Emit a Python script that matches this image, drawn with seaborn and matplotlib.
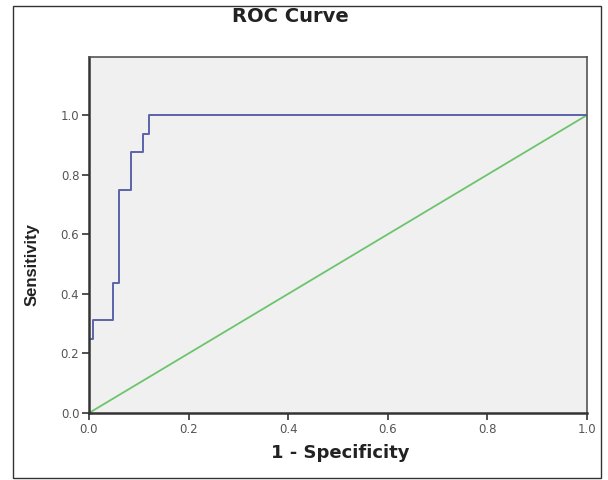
import matplotlib
matplotlib.use("Agg")
import matplotlib.pyplot as plt
import seaborn as sns
import pandas as pd
from matplotlib.patches import Rectangle

fpr = [0.0, 0.0, 0.008, 0.008, 0.048, 0.048, 0.060, 0.060, 0.084, 0.084, 0.108, 0.108, 0.120, 0.120, 1.0]
tpr = [0.0, 0.25, 0.25, 0.3125, 0.3125, 0.4375, 0.4375, 0.75, 0.75, 0.875, 0.875, 0.9375, 0.9375, 1.0, 1.0]
ref_x = [0.0, 1.0]
ref_y = [0.0, 1.0]
ticks = [0.0, 0.2, 0.4, 0.6, 0.8, 1.0]
tick_labels = ["0.0", "0.2", "0.4", "0.6", "0.8", "1.0"]

sns.set_style("white")
plt.rcParams['font.family'] = ['DejaVu Sans']

fig = plt.figure(figsize=(6.08, 4.8), dpi=100)
ax = fig.add_axes([89/608, 1-413/480, (587-89)/608, (413-57)/480])
ax.set_facecolor("#f0f0f0")

roc = pd.DataFrame({"fpr": fpr, "tpr": tpr})
ref = pd.DataFrame({"x": ref_x, "y": ref_y})
sns.lineplot(data=ref, x="x", y="y", ax=ax, color="#6cc46c", linewidth=1.3,
             sort=False, estimator=None)
sns.lineplot(data=roc, x="fpr", y="tpr", ax=ax, color="#5a64a8", linewidth=1.4,
             sort=False, estimator=None)

ax.set_xlim(0, 1)
ax.set_ylim(0, 1.195)
ax.set_xticks(ticks)
ax.set_xticklabels(tick_labels)
ax.set_yticks(ticks)
ax.set_yticklabels(tick_labels)
ax.tick_params(axis="both", direction="out", length=5, width=1.2, color="#333333",
               labelsize=8.5, labelcolor="#555555", pad=2, bottom=True, left=True)
for s in ["left", "bottom"]:
    ax.spines[s].set_color("#333333")
    ax.spines[s].set_linewidth(1.8)
for s in ["top", "right"]:
    ax.spines[s].set_color("#555555")
    ax.spines[s].set_linewidth(1.2)

ax.set_xlabel("")
ax.set_ylabel("")
fig.text(290/608, 1-17/480, "ROC Curve", ha="center", va="center", fontsize=14,
         fontweight="bold", color="#222222")
fig.text(340/608, 1-453/480, "1 - Specificity", ha="center", va="center", fontsize=13,
         fontweight="bold", color="#222222")
fig.text(32/608, 1-265/480, "Sensitivity", ha="center", va="center", fontsize=12,
         fontweight="bold", rotation=90, color="#222222",
         family=["Liberation Sans Narrow", "Liberation Sans", "DejaVu Sans"])

fig.patches.append(Rectangle((13/608, 1-478/480), (601-13)/608, (478-6)/480,
                             transform=fig.transFigure, fill=False,
                             edgecolor="#333333", linewidth=1.0))
fig.savefig("out.png", dpi=100)
